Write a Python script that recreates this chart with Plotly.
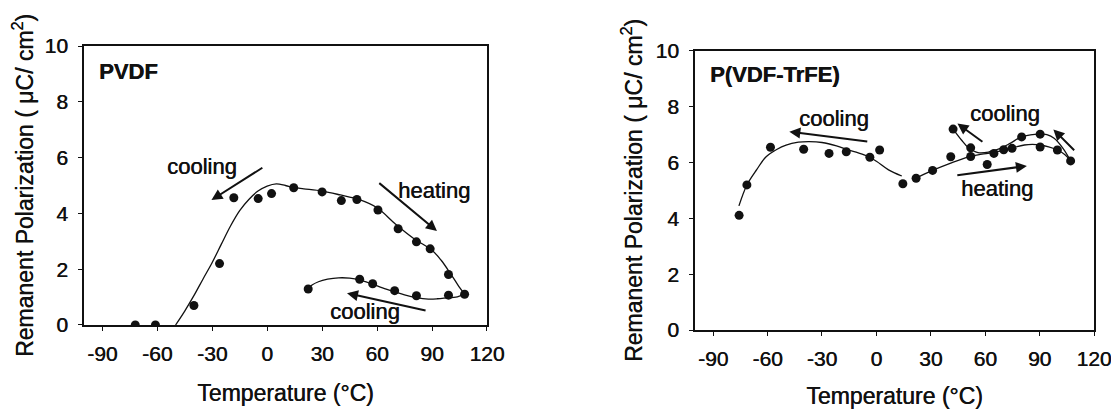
import plotly.graph_objects as go

# ---------------- data: PVDF (left panel) ----------------
pvdf_T = [-72, -61, -40, -26, -18.2, -4.9, 2.4, 14.5, 30, 40.5, 49, 60.5, 71.5, 81.5, 89, 99, 107.8,
          99, 81.5, 69.6, 57.6, 50.5, 22.4]
pvdf_P = [0, 0, 0.7, 2.2, 4.56, 4.53, 4.71, 4.92, 4.77, 4.46, 4.5, 4.12, 3.45, 2.98, 2.73, 1.81, 1.1,
          1.07, 1.05, 1.23, 1.48, 1.64, 1.29]

pvdf_fit_T = [-50, -45, -40, -35, -30, -25, -20, -15, -10, -5, 0, 5, 10, 15, 20, 30, 40, 50, 60, 70,
              80, 90, 95, 100, 104, 107.8]
pvdf_fit_P = [0, 0.5, 1.05, 1.65, 2.24, 2.9, 3.55, 4.1, 4.5, 4.8, 4.98, 5.06, 5.0, 4.92, 4.88, 4.8,
              4.66, 4.5, 4.2, 3.62, 3.1, 2.68, 2.32, 1.85, 1.45, 1.1]

pvdf_fit2_T = [107.8, 103, 99, 93, 88, 81.5, 75, 69.6, 63, 57.6, 50.5, 45, 39, 33, 28, 24.5, 22.4]
pvdf_fit2_P = [1.1, 1.0, 0.98, 0.94, 0.93, 0.98, 1.08, 1.19, 1.33, 1.46, 1.62, 1.68, 1.69, 1.64, 1.55,
               1.43, 1.29]

# ---------------- data: P(VDF-TrFE) (right panel) ----------------
trfe_T = [-75.7, -71.4, -58.4, -40.1, -26.1, -16.6, -3.6, 1.8, 14.6, 21.9, 31, 41, 42.3, 52, 52,
          61.1, 64.8, 70.2, 74.8, 80.1, 90.3, 90.3, 99.8, 107.1]
trfe_P = [4.11, 5.2, 6.55, 6.48, 6.33, 6.39, 6.19, 6.45, 5.24, 5.44, 5.72, 6.21, 7.2, 6.53, 6.22,
          5.93, 6.33, 6.46, 6.51, 6.92, 7.02, 6.56, 6.45, 6.06]

trfe_fit1_T = [-75.8, -71.4, -66, -60.8, -55, -49.8, -43, -37, -30, -22, -15.2, -10, -4.2, 0, 6.7, 14]
trfe_fit1_P = [4.45, 5.2, 5.75, 6.21, 6.47, 6.63, 6.73, 6.75, 6.72, 6.6, 6.45, 6.35, 6.21, 6.05,
               5.74, 5.52]

trfe_fit2_T = [21.4, 31, 41, 50.5, 56, 61.5, 66, 70.6, 76, 81.6, 86, 90.3, 95, 99.8, 104, 107.1]
trfe_fit2_P = [5.43, 5.72, 5.98, 6.2, 6.28, 6.33, 6.38, 6.45, 6.55, 6.63, 6.65, 6.63, 6.56, 6.45,
               6.28, 6.06]

trfe_fit3_T = [107.1, 103, 98, 94, 90.3, 86, 80, 74, 68, 62, 56, 50.5, 46.9, 42.3]
trfe_fit3_P = [6.06, 6.5, 6.87, 7.0, 7.03, 7.0, 6.92, 6.7, 6.5, 6.38, 6.36, 6.55, 6.81, 7.2]

x_ticks = [-90, -60, -30, 0, 30, 60, 90, 120]
x_tick_labels = ["-90", "-60", "-30", "0", "30", "60", "90", "120"]
y_ticks = [0, 2, 4, 6, 8, 10]
y_tick_labels = ["0", "2", "4", "6", "8", "10"]

FONT = "Liberation Sans, Arial, Helvetica, sans-serif"
INK = "#111111"
HEAVY = "0.45px 0px 0px #111111"   # slightly heavier strokes, like the printed figure


def font(size):
    return dict(family=FONT, size=size, color=INK, shadow=HEAVY)


fig = go.Figure()

def add_line(T, P, xa, ya):
    fig.add_trace(go.Scatter(x=T, y=P, mode="lines", xaxis=xa, yaxis=ya,
                             line=dict(color=INK, width=1.3, shape="spline", smoothing=1.0),
                             hoverinfo="skip", showlegend=False))

def add_pts(T, P, xa, ya):
    fig.add_trace(go.Scatter(x=T, y=P, mode="markers", xaxis=xa, yaxis=ya,
                             marker=dict(color=INK, size=9), showlegend=False))

add_line(pvdf_fit_T, pvdf_fit_P, "x", "y")
add_line(pvdf_fit2_T, pvdf_fit2_P, "x", "y")
add_pts(pvdf_T, pvdf_P, "x", "y")

add_line(trfe_fit1_T, trfe_fit1_P, "x2", "y2")
add_line(trfe_fit2_T, trfe_fit2_P, "x2", "y2")
add_line(trfe_fit3_T, trfe_fit3_P, "x2", "y2")
add_pts(trfe_T, trfe_P, "x2", "y2")

axis_common = dict(showgrid=False, zeroline=False, showline=True, linecolor=INK, linewidth=1.8,
                   mirror=True, ticks="outside", ticklen=4, tickwidth=1, tickcolor=INK,
                   automargin=False, tickfont=font(21))

xtitle = dict(text="Temperature (°C)", font=font(23), standoff=21)
ytitle = dict(text="Remanent Polarization ( μC/ cm<sup>2</sup>)", font=font(23), standoff=7)

# the page adds an 8 px body margin, so the figure is 8 px smaller than the window
fig.update_layout(
    template="none",
    width=1111, height=401,
    margin=dict(l=0, r=0, t=0, b=0),
    paper_bgcolor="white", plot_bgcolor="white",
    showlegend=False,
    xaxis=dict(domain=[0.0684, 0.4311], range=[-100, 120], tickvals=x_ticks, ticktext=x_tick_labels,
               anchor="y", ticklabelstandoff=5, title=xtitle, **axis_common),
    yaxis=dict(domain=[0.2095, 0.9052], range=[0, 10], tickvals=y_ticks, ticktext=y_tick_labels,
               anchor="x", ticklabelstandoff=6, title=ytitle, **axis_common),
    xaxis2=dict(domain=[0.6184, 0.9775], range=[-100, 120], tickvals=x_ticks, ticktext=x_tick_labels,
                anchor="y2", ticklabelstandoff=5, title=xtitle, **axis_common),
    yaxis2=dict(domain=[0.1970, 0.8928], range=[0, 10], tickvals=y_ticks, ticktext=y_tick_labels,
                anchor="x2", ticklabelstandoff=6, title=ytitle, **axis_common),
)

def label(text, x, y, xa, ya, bold=False, anchor="center"):
    fig.add_annotation(x=x, y=y, xref=xa, yref=ya, text=f"<b>{text}</b>" if bold else text,
                       showarrow=False, xanchor=anchor, yanchor="middle", font=font(22))

def arrow(x0, y0, x1, y1, xa, ya):
    fig.add_annotation(x=x1, y=y1, ax=x0, ay=y0, xref=xa, yref=ya, axref=xa, ayref=ya,
                       text="", showarrow=True, arrowhead=2, arrowsize=1.1, arrowwidth=2,
                       arrowcolor=INK, standoff=0, startstandoff=0)

# left panel annotations
label("PVDF", -93, 9.07, "x", "y", bold=True, anchor="left")
label("cooling", -35.5, 5.69, "x", "y")
arrow(-1.8, 5.67, -30.4, 4.48, "x", "y")
label("heating", 91, 4.83, "x", "y")
arrow(60.4, 5.13, 92.7, 3.37, "x", "y")
label("cooling", 53.6, 0.48, "x", "y")
arrow(87.3, 0.51, 43.6, 1.14, "x", "y")

# right panel annotations
label("P(VDF-TrFE)", -92.7, 9.15, "x2", "y2", bold=True, anchor="left")
label("cooling", -23.4, 7.58, "x2", "y2")
arrow(-4.2, 6.75, -48, 7.11, "x2", "y2")
label("cooling", 70.7, 7.76, "x2", "y2")
arrow(59.3, 6.71, 44.7, 7.4, "x2", "y2")
arrow(109.9, 6.39, 97.6, 7.19, "x2", "y2")
arrow(43.8, 5.54, 83, 5.88, "x2", "y2")
label("heating", 66.5, 5.08, "x2", "y2")

fig.write_html("out.html")
